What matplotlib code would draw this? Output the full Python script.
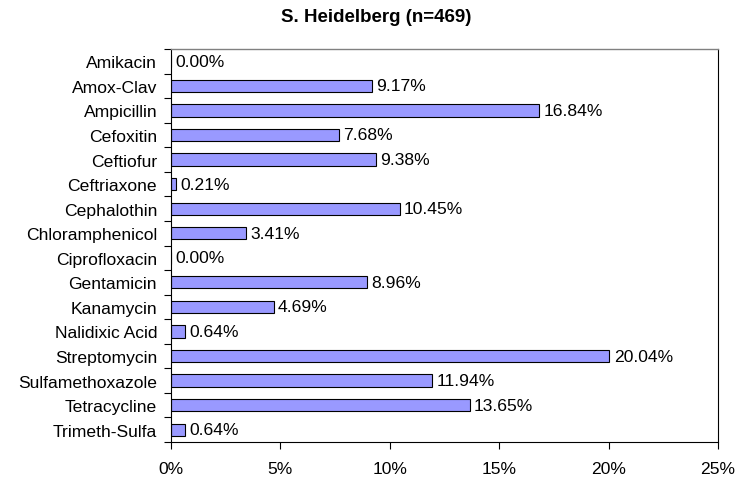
import matplotlib
matplotlib.use("Agg")
import matplotlib.pyplot as plt
from matplotlib.ticker import FuncFormatter

categories = ["Amikacin", "Amox-Clav", "Ampicillin", "Cefoxitin", "Ceftiofur",
              "Ceftriaxone", "Cephalothin", "Chloramphenicol", "Ciprofloxacin",
              "Gentamicin", "Kanamycin", "Nalidixic Acid", "Streptomycin",
              "Sulfamethoxazole", "Tetracycline", "Trimeth-Sulfa"]
values = [0.00, 9.17, 16.84, 7.68, 9.38, 0.21, 10.45, 3.41, 0.00,
          8.96, 4.69, 0.64, 20.04, 11.94, 13.65, 0.64]
xticks = [0, 5, 10, 15, 20, 25]
title = "S. Heidelberg (n=469)"

FS = 12.6
plt.rcParams['font.family'] = ['Liberation Sans', 'DejaVu Sans']
fig = plt.figure(figsize=(7.45, 4.81), dpi=100)
ax = fig.add_axes([171/745, 1-443/481, (718-171)/745, (443-50)/481])

y = list(range(len(categories)))
ax.barh(y, values, height=0.5, color="#9999FF", edgecolor="black", linewidth=0.8)
for yi, v in zip(y, values):
    ax.text(v + 0.2, yi, f"{v:.2f}%", va="center", ha="left", fontsize=FS)

ax.set_ylim(len(categories) - 0.5, -0.5)
ax.set_xlim(0, 25)
ax.set_xticks(xticks)
ax.xaxis.set_major_formatter(FuncFormatter(lambda v, p: f"{v:.0f}%"))
ax.set_yticks(y)
ax.set_yticklabels(categories, fontsize=FS)
ax.set_yticks([i - 0.5 for i in range(len(categories) + 1)], minor=True)
ax.tick_params(axis='y', which='major', length=0, pad=10)
ax.tick_params(axis='y', which='minor', length=5, width=0.8, direction='out')
ax.tick_params(axis='x', which='major', length=5, width=0.8, direction='out', pad=9, labelsize=FS)

for s in ['left', 'bottom', 'right']:
    ax.spines[s].set_color('black')
    ax.spines[s].set_linewidth(0.8)
ax.spines['top'].set_color('#808080')
ax.spines['top'].set_linewidth(1.0)

fig.text(376/745, 1-17/481, title, ha='center', va='center',
         fontsize=13.5, fontweight='bold')

fig.savefig("out.png", dpi=100)
